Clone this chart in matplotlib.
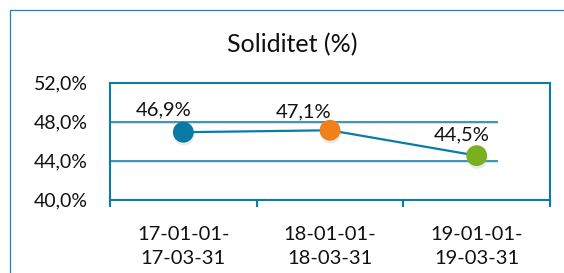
import matplotlib
matplotlib.use("Agg")
import matplotlib.pyplot as plt
import matplotlib.patheffects as pe
from matplotlib.patches import Rectangle

# data
periods = ["17-01-01-\n17-03-31", "18-01-01-\n18-03-31", "19-01-01-\n19-03-31"]
soliditet = [46.9, 47.1, 44.5]
labels = ["46,9%", "47,1%", "44,5%"]
point_colors = ["#0B79A6", "#F0801A", "#7BAF22"]
yticks = [40, 44, 48, 52]

blue = "#0B7BA8"
plt.rcParams['font.family'] = ['Lato', 'DejaVu Sans']

fig = plt.figure(figsize=(5.64, 2.73), dpi=100)
W, H = 564.0, 273.0

# outer chart border (runs off right/bottom edge)
fig.patches.append(Rectangle((9.5 / W, 0 - 0.1), 1.2, 1 - 9.5 / H + 0.1,
                             transform=fig.transFigure, fill=False,
                             edgecolor="#1B85B0", linewidth=0.9))

ax = fig.add_axes([110 / W, 1 - 199.5 / H, 440 / W, 117 / H])

x = list(range(len(soliditet)))

# gridlines
for g in [44, 48]:
    ax.axhline(g, xmin=0, xmax=0.88, color="#3F93B5", linewidth=1.4, zorder=1,
               path_effects=[pe.SimpleLineShadow(offset=(0, -1.2), shadow_color="#9CC7D8", alpha=0.5),
                             pe.Normal()])

ax.plot(x, soliditet, color=blue, linewidth=1.6, zorder=2)
for xi, yi, c in zip(x, soliditet, point_colors):
    ax.plot(xi, yi, marker="o", markersize=15, color=c, markeredgewidth=0, zorder=3,
            path_effects=[pe.SimplePatchShadow(offset=(0.5, -2), shadow_rgbFace="#aaaaaa", alpha=0.25),
                          pe.Normal()])

offsets = [(-14, 16), (-19, 13), (-11, 15)]
for xi, yi, lab, off in zip(x, soliditet, labels, offsets):
    ax.annotate(lab, (xi, yi), xytext=off, textcoords="offset points",
                ha="center", va="center", fontsize=14.5, color="#111111")

ax.set_xlim(-0.5, 2.5)
ax.set_ylim(40, 52)
ax.set_yticks(yticks)
ax.set_yticklabels([f"{v:.1f}%".replace(".", ",") for v in yticks])
ax.tick_params(axis="y", length=0, pad=16, labelsize=14, labelcolor="#111111")

ax.set_xticks([-0.5, 0.5, 1.5, 2.5])
ax.set_xticklabels([])
ax.set_xticks(x, minor=True)
ax.set_xticklabels(periods, minor=True, fontsize=14.5, color="#111111", linespacing=1.5)
ax.tick_params(axis="x", which="major", length=5, width=1.5, color=blue)
ax.tick_params(axis="x", which="minor", length=0, pad=19)

for s in ax.spines.values():
    s.set_color(blue)
    s.set_linewidth(1.5)

fig.text(292 / W, 1 - 45 / H, "Soliditet (%)", ha="center", va="center",
         fontsize=18, color="#111111")

fig.savefig("out.png", dpi=100)
